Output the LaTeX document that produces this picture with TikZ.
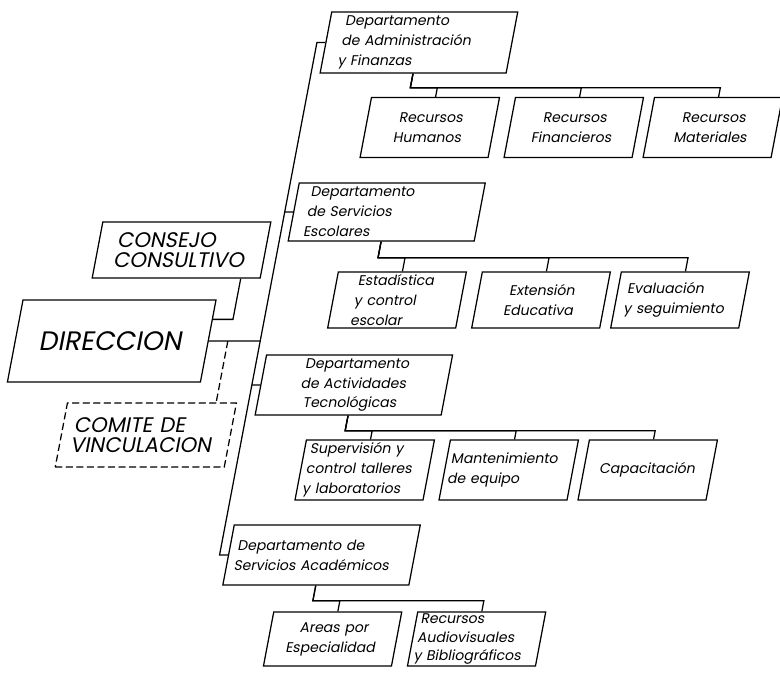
\documentclass[tikz,border=0pt]{standalone}
\usepackage{fontspec}
\setmainfont{Poppins}
\begin{document}
\begin{tikzpicture}[x=0.025cm,y=-0.025cm,
  ln/.style={line width=0.9pt},
  box/.style={draw, ln, inner ysep=0pt, font=\fontsize{10}{14.2}\selectfont},
  tight/.style={font=\fontsize{10}{13.2}\selectfont},
  big/.style={font=\fontsize{15}{14.6}\selectfont},
  huge/.style={font=\fontsize{19}{22}\selectfont},
  % width, height and left inset of a box, in drawing units
  dim/.code n args={3}{%
    \pgfmathsetlengthmacro\boxw{#1*0.025cm}%
    \pgfmathsetlengthmacro\boxh{#2*0.025cm}%
    \pgfmathsetlengthmacro\boxin{#3*0.025cm}%
    \pgfmathsetlengthmacro\boxtw{(#1-2*#3)*0.025cm}%
    \edef\boxopts{\noexpand\tikzset{minimum width=\boxw, minimum height=\boxh,
      text width=\boxtw, inner xsep=\boxin}}\boxopts},
  vlink/.style={ln, dash pattern=on 5pt off 2.5pt}
]
\useasboundingbox (0,0) rectangle (780,672);
\begin{scope}[transform canvas={xslant=0.19}]
  % departments
  \node[box, dim={186}{61}{16}, align=left] (admin) at (427,42.5) {Departamento\\de Administración\\y Finanzas};
  \node[box, dim={186}{58}{14}, align=left] (serv) at (427,212) {Departamento\\de Servicios\\Escolares};
  \node[box, dim={186}{60}{4}, align=center] (act) at (427,385) {Departamento\\de Actividades\\Tecnológicas};
  \node[box, dim={186}{60}{8}, align=left] (acad) at (427,555) {Departamento de\\Servicios Académicos};
  % sections
  \node[box, dim={128}{60}{4}, align=center] (rh) at (454,127.5) {Recursos\\Humanos};
  \node[box, dim={128}{60}{4}, align=center] (rf) at (598,127.5) {Recursos\\Financieros};
  \node[box, dim={128}{60}{4}, align=center] (rm) at (737,127.5) {Recursos\\Materiales};
  \node[box, dim={128}{56}{22}, align=left] (est) at (454,300) {Estadística\\y control\\escolar};
  \node[box, dim={128}{56}{4}, align=center] (ext) at (598,300) {Extensión\\Educativa};
  \node[box, dim={128}{56}{10}, align=left] (eval) at (737,300) {Evaluación\\y seguimiento};
  \node[box, dim={128}{60}{6}, align=left] (sup) at (454,470) {Supervisión y\\control talleres\\y laboratorios};
  \node[box, dim={128}{60}{5}, align=left] (mant) at (598,470) {Mantenimiento\\de equipo};
  \node[box, dim={128}{60}{4}, align=center] (cap) at (737,470) {Capacitación};
  \node[box, dim={128}{54}{4}, align=center] (areas) at (454,639) {Areas por\\Especialidad};
  \node[box, tight, dim={128}{54}{5}, align=left] (recav) at (598,639) {Recursos\\Audiovisuales\\y Bibliográficos};
  % direction and councils
  \node[box, big, dim={168}{56}{19}, align=left] (consejo) at (229,250) {CONSEJO\\CONSULTIVO};
  \node[box, huge, dim={193}{82}{4}, align=center] (dir) at (176.5,341) {DIRECCION};
  \node[box, big, vlink, dim={169}{64}{12}, align=left] (comite) at (228.5,435) {COMITE DE\\VINCULACION};

  % main trunk
  \coordinate (tx) at (325,0);
  \draw[ln] (admin.west) -- (admin.west -| tx) -- (acad.west -| tx) -- (acad.west);
  \foreach \d in {serv,act} \draw[ln] (\d.west) -- (\d.west -| tx);
  \draw[ln] (dir.east) -- (dir.east -| tx);
  % sections under each department
  \foreach \c in {rh,rf,rm} \draw[ln] (admin.south) -- ++(0,14) -| (\c.north);
  \foreach \c in {est,ext,eval} \draw[ln] (serv.south) -- ++(0,16) -| (\c.north);
  \foreach \c in {sup,mant,cap} \draw[ln] (act.south) -- ++(0,15) -| (\c.north);
  \foreach \c in {areas,recav} \draw[ln] (acad.south) -- ++(0,15) -| (\c.north);
  % council links
  \path (consejo.south east) ++(-20,0) coordinate (cjfoot);
  \path (dir.north east) ++(0,20) coordinate (dirside);
  \draw[ln] (cjfoot) |- (dirside);
  \path (dir.east) ++(19,0) coordinate (tap);
  \draw[vlink] (tap) -- (tap |- comite.north);
\end{scope}
\end{tikzpicture}
\end{document}
